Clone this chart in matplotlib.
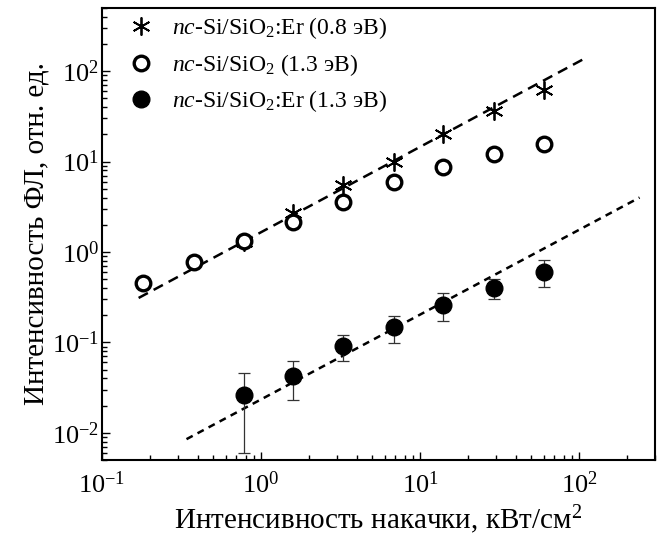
import numpy as np
import matplotlib
matplotlib.use("Agg")
import matplotlib.pyplot as plt
from matplotlib.ticker import LogLocator, LogFormatterMathtext, NullFormatter

plt.rcParams['font.family'] = ['Liberation Serif', 'DejaVu Serif']
plt.rcParams['mathtext.fontset'] = 'custom'
plt.rcParams['mathtext.rm'] = 'Liberation Serif'
plt.rcParams['mathtext.it'] = 'Liberation Serif:italic'

# pump intensity, kW/cm^2
pump = [0.18, 0.38, 0.78, 1.6, 3.3, 6.9, 14, 29, 60]
pump_er = [0.78, 1.6, 3.3, 6.9, 14, 29, 60]

# nc-Si/SiO2 (1.3 eV)
pl_sio2 = [0.45, 0.77, 1.31, 2.16, 3.55, 6.0, 8.7, 12.2, 15.7]
# nc-Si/SiO2:Er (0.8 eV)
pl_er08 = [1.3, 2.68, 5.5, 9.8, 20.4, 36.4, 62]
# nc-Si/SiO2:Er (1.3 eV) with error limits
pl_er13 = [0.026, 0.043, 0.091, 0.147, 0.26, 0.40, 0.60]
pl_er13_lo = [0.006, 0.023, 0.062, 0.098, 0.174, 0.30, 0.41]
pl_er13_hi = [0.046, 0.063, 0.12, 0.197, 0.356, 0.50, 0.81]

# guide lines (end points)
fit1_x = [0.17, 110]
fit1_y = [0.31, 140]
fit2_x = [0.34, 240]
fit2_y = [0.0085, 4.0]

fig = plt.figure(figsize=(6.63, 5.35), dpi=100)
ax = fig.add_axes([0.1538, 0.1402, 0.8341, 0.8449])

ax.plot(fit1_x, fit1_y, color='black', lw=1.8, dashes=(4.2, 2.6), zorder=1)
ax.plot(fit2_x, fit2_y, color='black', lw=1.8, dashes=(2.8, 2.2), zorder=1)

yerr = [np.array(pl_er13) - np.array(pl_er13_lo), np.array(pl_er13_hi) - np.array(pl_er13)]
ax.errorbar(pump_er, pl_er13, yerr=yerr, fmt='none', ecolor='#333333', elinewidth=0.9,
            capsize=4.5, capthick=0.9, zorder=2)

ax.plot(pump_er, pl_er08, ls='none', marker=(6, 2, 0), ms=13, mew=1.3, color='black',
        zorder=3, label=r'$nc$-Si/SiO$_2$:Er (0.8 эВ)')
ax.plot(pump, pl_sio2, ls='none', marker='o', ms=10.5, mew=2.4, mfc='white', mec='black',
        zorder=4, label=r'$nc$-Si/SiO$_2$ (1.3 эВ)')
ax.plot(pump_er, pl_er13, ls='none', marker='o', ms=12, color='black',
        zorder=5, label=r'$nc$-Si/SiO$_2$:Er (1.3 эВ)')

ax.set_xscale('log')
ax.set_yscale('log')
ax.set_xlim(0.1, 300)
ax.set_ylim(0.005, 500)

for a in (ax.xaxis, ax.yaxis):
    a.set_major_locator(LogLocator(base=10, numticks=12))
    a.set_minor_locator(LogLocator(base=10, subs=np.arange(2, 10), numticks=12))
    a.set_major_formatter(LogFormatterMathtext())
    a.set_minor_formatter(NullFormatter())

ax.tick_params(which='both', direction='in', top=False, right=False, width=1.0, labelsize=19)
ax.tick_params(which='major', length=6)
ax.tick_params(which='minor', length=3.5)
ax.tick_params(axis='x', pad=8)
ax.tick_params(axis='y', pad=2)
for s in ax.spines.values():
    s.set_linewidth(1.5)

ax.set_xlabel('Интенсивность накачки, кВт/см$^2$', fontsize=21, labelpad=4)
ax.set_ylabel('Интенсивность ФЛ, отн. ед.', fontsize=21, labelpad=2)

ax.legend(loc='upper left', bbox_to_anchor=(0.02, 1.015), frameon=False, fontsize=17,
          handlelength=1.2, handletextpad=0.7, labelspacing=0.45, borderaxespad=0.2)

fig.savefig('out.png', dpi=100)
